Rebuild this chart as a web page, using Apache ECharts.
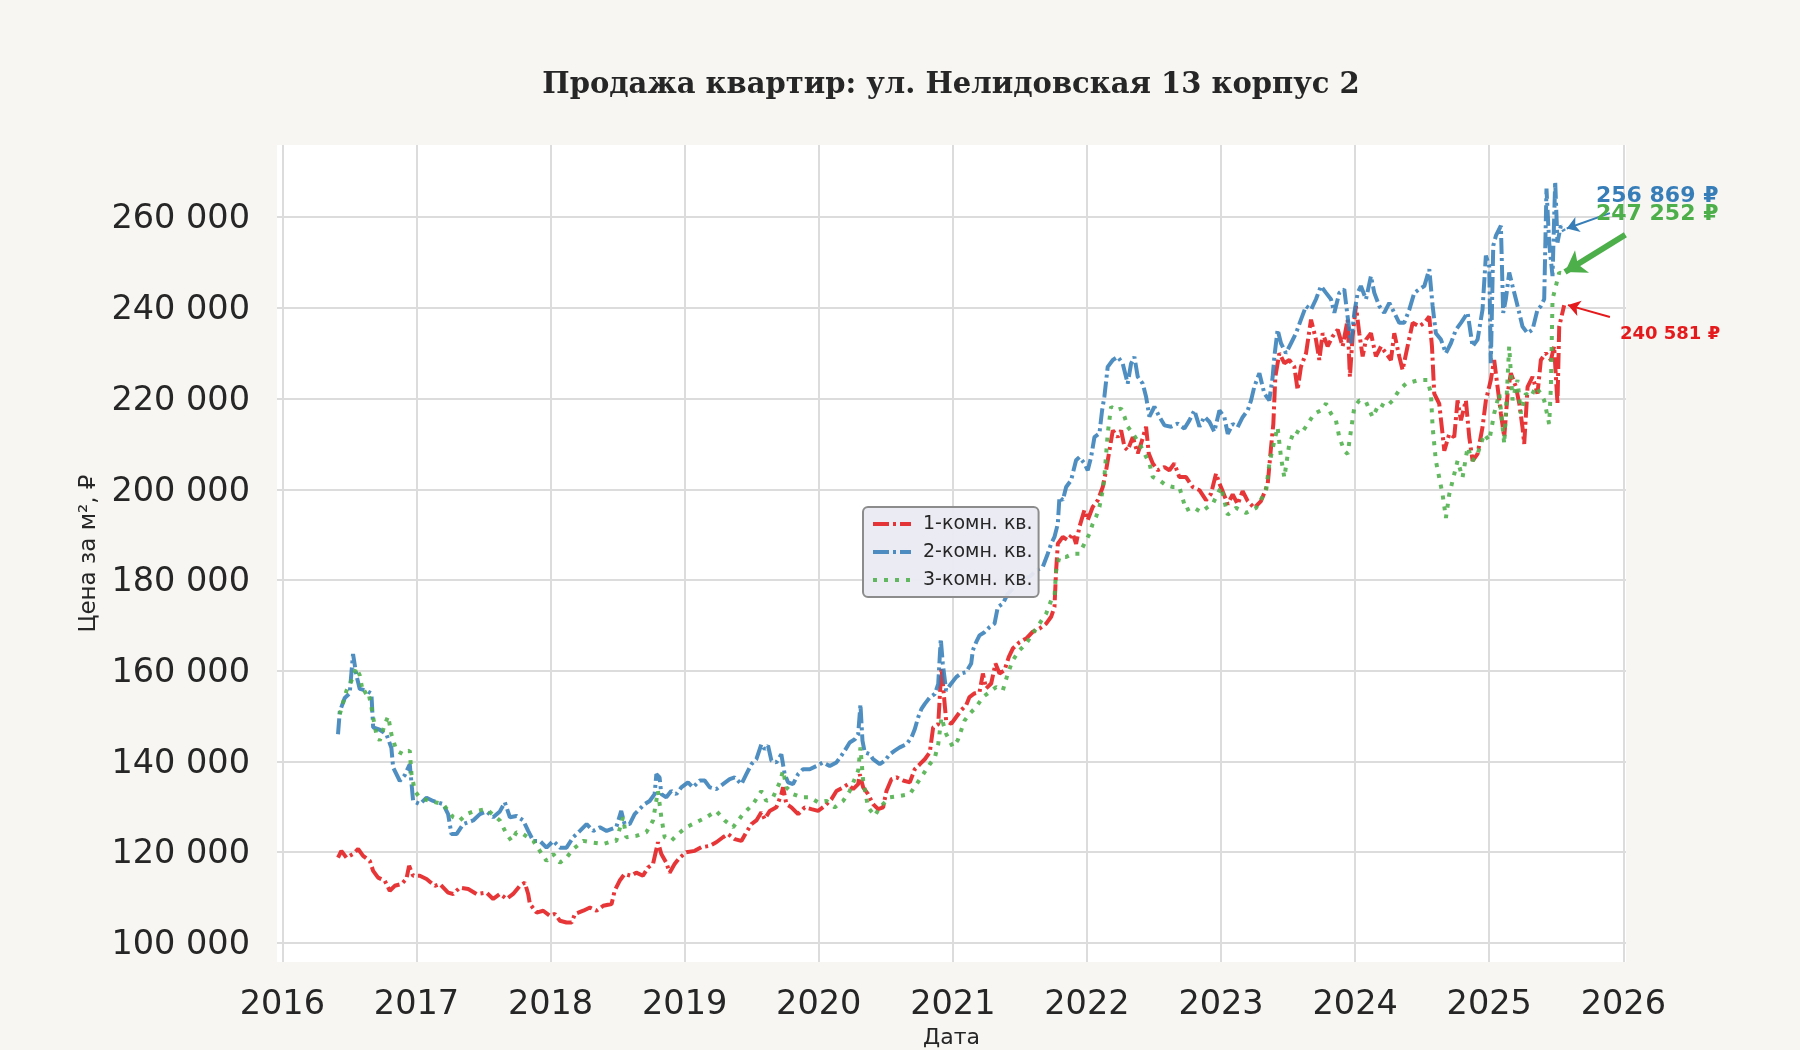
<!DOCTYPE html>
<html>
<head>
<meta charset="utf-8">
<script src="https://cdn.jsdelivr.net/npm/echarts@6/dist/echarts.min.js"></script>
<style>
html,body{margin:0;padding:0;background:#f7f6f2;}
#chart{width:1800px;height:1050px;}
</style>
</head>
<body>
<div id="chart"></div>
<script>
// ---- Data (decimal year, price per m², ₽) ----
const seriesNames = ['1-комн. кв.', '2-комн. кв.', '3-комн. кв.'];

const t1 = [2016.415,2016.440,2016.478,2016.527,2016.565,2016.602,2016.652,2016.677,2016.714,2016.764,2016.801,2016.838,2016.888,2016.925,2016.945,2016.975,2017.025,2017.075,2017.137,2017.174,2017.236,2017.274,2017.323,2017.386,2017.448,2017.522,2017.572,2017.622,2017.672,2017.721,2017.771,2017.808,2017.833,2017.846,2017.896,2017.945,2017.995,2018.032,2018.070,2018.119,2018.157,2018.182,2018.244,2018.294,2018.343,2018.393,2018.455,2018.478,2018.515,2018.552,2018.602,2018.639,2018.689,2018.726,2018.764,2018.801,2018.826,2018.863,2018.888,2018.925,2018.963,2019.012,2019.075,2019.124,2019.187,2019.236,2019.286,2019.323,2019.373,2019.423,2019.460,2019.498,2019.535,2019.572,2019.597,2019.634,2019.684,2019.721,2019.734,2019.759,2019.796,2019.846,2019.896,2019.945,2019.995,2020.045,2020.095,2020.132,2020.182,2020.219,2020.256,2020.294,2020.306,2020.331,2020.368,2020.405,2020.443,2020.480,2020.505,2020.542,2020.580,2020.629,2020.679,2020.716,2020.754,2020.791,2020.828,2020.853,2020.891,2020.915,2020.930,2020.950,2020.988,2021.025,2021.062,2021.099,2021.124,2021.161,2021.199,2021.224,2021.248,2021.286,2021.318,2021.348,2021.385,2021.417,2021.447,2021.497,2021.547,2021.596,2021.646,2021.696,2021.733,2021.758,2021.770,2021.783,2021.820,2021.857,2021.894,2021.919,2021.944,2021.981,2022.006,2022.043,2022.081,2022.118,2022.143,2022.168,2022.193,2022.230,2022.255,2022.280,2022.304,2022.342,2022.379,2022.404,2022.441,2022.461,2022.491,2022.528,2022.578,2022.615,2022.652,2022.689,2022.739,2022.789,2022.839,2022.888,2022.925,2022.963,2022.988,2023.012,2023.050,2023.087,2023.124,2023.161,2023.199,2023.248,2023.298,2023.348,2023.373,2023.390,2023.405,2023.435,2023.472,2023.509,2023.547,2023.571,2023.596,2023.634,2023.671,2023.708,2023.733,2023.758,2023.795,2023.832,2023.870,2023.907,2023.944,2023.961,2023.981,2024.006,2024.031,2024.056,2024.081,2024.118,2024.155,2024.193,2024.230,2024.267,2024.292,2024.329,2024.354,2024.391,2024.429,2024.478,2024.516,2024.553,2024.573,2024.590,2024.627,2024.652,2024.665,2024.702,2024.739,2024.764,2024.789,2024.826,2024.851,2024.876,2024.913,2024.950,2024.975,2025.012,2025.037,2025.062,2025.087,2025.112,2025.137,2025.161,2025.199,2025.224,2025.248,2025.261,2025.286,2025.323,2025.360,2025.385,2025.422,2025.460,2025.484,2025.509,2025.522,2025.559];
const v1 = [118800,120300,118800,119600,120700,119200,118100,115900,114400,113700,111500,112600,113000,114100,117000,114800,114800,114100,112600,113000,111100,110800,112200,111900,110800,111100,109700,110800,109700,110800,112600,113300,110800,108600,106700,107100,106000,106400,104900,104500,104500,106400,107100,107800,107100,108200,108600,111500,113700,115200,114800,115500,114800,116600,117400,122200,119600,117700,115500,117400,118800,120000,120300,121100,121400,122200,123300,124000,122900,122500,124400,126200,127000,128800,127300,129100,129900,132800,134300,130600,129900,128400,129900,129500,129100,130200,131700,133500,134300,135000,133900,135000,137200,134300,132800,130600,129500,129900,133500,136100,136500,135800,135400,138300,139400,140500,142000,147500,148200,160700,155700,149000,148300,149800,151300,152400,154200,155000,155300,159400,156100,157200,161600,159400,160100,163000,164900,166300,167100,168600,169300,170400,171900,174100,182100,188000,189500,188800,190200,188000,191700,195400,193200,196100,197600,200500,204200,208600,213000,211500,213000,209300,208600,211500,207900,210100,213800,207900,205700,204200,204900,204200,205700,202700,202700,200500,199800,197600,199000,203500,201300,199600,196700,198900,196700,199600,197400,195900,197400,201100,209300,214400,224800,230000,227800,228500,227000,221900,227000,230000,237400,233000,228500,234400,231500,233700,235200,231500,237400,224800,233700,240400,234400,229300,233000,234400,229300,231500,230000,228500,234400,229300,226300,231500,236700,235900,236700,238100,231500,221100,218900,212200,208500,212200,211500,219600,215200,219600,211500,206300,207800,213700,219600,224100,228500,222600,216700,211500,221100,225600,222600,218900,213700,210000,222600,224800,221100,228500,230000,228500,231500,218900,235900,240581];

const t2 = [2016.415,2016.428,2016.465,2016.502,2016.527,2016.552,2016.577,2016.627,2016.664,2016.677,2016.726,2016.776,2016.813,2016.826,2016.876,2016.913,2016.950,2016.975,2017.025,2017.075,2017.124,2017.199,2017.236,2017.261,2017.299,2017.348,2017.423,2017.473,2017.522,2017.572,2017.622,2017.659,2017.697,2017.746,2017.796,2017.833,2017.871,2017.920,2017.970,2018.020,2018.070,2018.119,2018.169,2018.219,2018.269,2018.318,2018.368,2018.418,2018.490,2018.527,2018.552,2018.590,2018.627,2018.664,2018.701,2018.739,2018.776,2018.789,2018.813,2018.826,2018.863,2018.900,2018.938,2018.975,2019.025,2019.062,2019.112,2019.149,2019.187,2019.236,2019.286,2019.336,2019.373,2019.423,2019.460,2019.498,2019.535,2019.572,2019.597,2019.622,2019.647,2019.684,2019.721,2019.746,2019.771,2019.808,2019.846,2019.883,2019.933,2019.983,2020.032,2020.082,2020.132,2020.169,2020.194,2020.231,2020.269,2020.294,2020.311,2020.326,2020.343,2020.381,2020.405,2020.455,2020.493,2020.530,2020.567,2020.604,2020.654,2020.692,2020.716,2020.741,2020.766,2020.791,2020.828,2020.866,2020.891,2020.910,2020.925,2020.950,2020.988,2021.025,2021.062,2021.099,2021.137,2021.149,2021.174,2021.199,2021.236,2021.273,2021.311,2021.335,2021.373,2021.410,2021.435,2021.472,2021.522,2021.571,2021.621,2021.671,2021.708,2021.733,2021.758,2021.783,2021.795,2021.820,2021.845,2021.882,2021.919,2021.944,2021.981,2022.006,2022.031,2022.056,2022.093,2022.113,2022.130,2022.155,2022.193,2022.230,2022.267,2022.304,2022.329,2022.354,2022.379,2022.416,2022.441,2022.466,2022.503,2022.540,2022.578,2022.627,2022.677,2022.727,2022.764,2022.801,2022.839,2022.876,2022.913,2022.950,2022.988,2023.025,2023.050,2023.087,2023.124,2023.161,2023.199,2023.224,2023.248,2023.286,2023.323,2023.360,2023.385,2023.398,2023.422,2023.447,2023.484,2023.522,2023.559,2023.596,2023.634,2023.671,2023.708,2023.745,2023.783,2023.820,2023.845,2023.882,2023.919,2023.944,2023.969,2023.994,2024.019,2024.043,2024.081,2024.118,2024.143,2024.180,2024.217,2024.255,2024.292,2024.329,2024.366,2024.404,2024.441,2024.478,2024.516,2024.553,2024.578,2024.602,2024.640,2024.677,2024.714,2024.752,2024.789,2024.839,2024.876,2024.913,2024.950,2024.975,2025.000,2025.012,2025.030,2025.050,2025.087,2025.104,2025.124,2025.149,2025.174,2025.199,2025.224,2025.248,2025.286,2025.323,2025.360,2025.385,2025.410,2025.427,2025.447,2025.472,2025.492,2025.509,2025.534,2025.559];
const v2 = [146000,151000,154000,155000,163700,159000,156000,155600,155000,147500,147000,146000,143000,138700,135700,137000,139400,131300,130600,132000,131300,130600,128400,124000,124000,126200,127000,128400,129000,127700,129000,131000,127700,128000,127000,124700,122500,122500,121000,122500,121000,121000,123300,124700,126200,124700,125500,124700,125500,129100,126200,126200,128400,129500,130600,131300,132800,137200,136500,132800,132100,133500,132800,134300,135400,134300,135800,135800,134300,133900,135000,136100,136500,135000,137200,139400,140500,143800,142700,143500,140200,139800,141600,137200,135400,135000,137200,138300,138300,139000,139800,139000,139800,141300,142400,144200,144900,146000,152600,144600,142000,141600,140500,139400,140200,141600,142400,143100,143800,145300,147100,149700,151600,152700,154100,154900,157100,167000,161600,155600,157200,158600,159400,159700,161600,164500,166300,167800,168500,169600,170400,174000,174800,177000,177700,179200,180300,180700,182100,182900,185800,188000,189500,192400,198300,197600,200500,202000,206400,207100,205700,204200,207100,211500,212300,217400,220400,227000,228500,229200,227700,223300,227700,229200,224800,223300,220400,216000,218200,216000,214100,213800,214500,213400,215200,217400,213800,216000,214900,212700,217400,215900,212200,214400,213700,215900,217400,219600,222600,225600,221100,219600,224800,229300,235200,232200,230000,232200,234400,237400,240400,239600,241900,244800,243300,241900,238900,243300,244100,238100,232200,238900,243300,244800,241900,247000,243300,240400,238900,241100,238900,236700,236700,239600,243300,244100,244800,248500,240400,234400,233000,230000,232200,235200,236700,238900,231500,233000,239600,251500,249300,227800,253700,255900,258100,238900,241900,247800,244800,241900,238900,235900,234400,235200,239600,240400,241900,266300,254400,247000,267800,254400,258100,256869];

const t3 = [2016.428,2016.478,2016.515,2016.552,2016.577,2016.602,2016.639,2016.664,2016.677,2016.701,2016.726,2016.764,2016.789,2016.813,2016.851,2016.900,2016.950,2016.963,2016.988,2017.025,2017.100,2017.199,2017.274,2017.323,2017.373,2017.423,2017.522,2017.622,2017.672,2017.709,2017.746,2017.796,2017.871,2017.920,2017.970,2018.020,2018.070,2018.119,2018.169,2018.244,2018.318,2018.393,2018.468,2018.490,2018.540,2018.565,2018.639,2018.714,2018.764,2018.801,2018.826,2018.851,2018.900,2018.950,2019.012,2019.087,2019.162,2019.236,2019.299,2019.361,2019.435,2019.510,2019.572,2019.609,2019.659,2019.709,2019.734,2019.759,2019.808,2019.871,2019.933,2019.995,2020.057,2020.119,2020.182,2020.231,2020.294,2020.311,2020.331,2020.368,2020.418,2020.455,2020.530,2020.604,2020.679,2020.729,2020.779,2020.828,2020.866,2020.891,2020.915,2020.950,2021.000,2021.037,2021.087,2021.124,2021.174,2021.224,2021.273,2021.323,2021.373,2021.410,2021.447,2021.497,2021.547,2021.596,2021.646,2021.696,2021.733,2021.758,2021.770,2021.795,2021.845,2021.894,2021.944,2021.981,2022.019,2022.043,2022.068,2022.093,2022.118,2022.130,2022.155,2022.180,2022.217,2022.255,2022.280,2022.304,2022.342,2022.391,2022.429,2022.466,2022.491,2022.540,2022.590,2022.640,2022.689,2022.739,2022.789,2022.851,2022.901,2022.938,2023.000,2023.050,2023.112,2023.186,2023.261,2023.335,2023.360,2023.398,2023.422,2023.447,2023.472,2023.509,2023.547,2023.596,2023.646,2023.696,2023.745,2023.783,2023.820,2023.857,2023.882,2023.919,2023.944,2023.969,2023.994,2024.031,2024.081,2024.130,2024.180,2024.230,2024.280,2024.329,2024.379,2024.429,2024.478,2024.540,2024.565,2024.578,2024.602,2024.627,2024.652,2024.677,2024.702,2024.727,2024.764,2024.801,2024.839,2024.876,2024.913,2024.963,2025.000,2025.037,2025.075,2025.112,2025.149,2025.174,2025.211,2025.236,2025.273,2025.311,2025.348,2025.385,2025.410,2025.447,2025.460,2025.472,2025.497,2025.522,2025.559];
const v3 = [150400,155600,157800,160700,159000,155000,155600,152000,149700,146000,144600,148200,150000,146000,142400,141600,142400,137200,133500,132000,131300,130600,127700,127000,128400,129000,129500,127000,124000,122500,124400,124000,122500,120300,118100,119600,117700,118800,120700,122500,122100,121800,122500,122500,127700,123300,123600,124400,127000,133500,127700,123300,122500,124000,125500,126600,127700,129100,127000,125500,128400,130600,133500,131300,132100,135400,138000,134300,132800,132100,132100,131000,131300,129900,131300,133500,138000,143100,135800,129900,128000,129900,132100,132400,132800,135000,137200,139400,140900,143800,149700,146100,143200,144700,149000,150500,152000,154200,155300,156400,155700,159400,162300,164500,166000,168200,170400,172600,175500,176300,182100,185100,185100,185800,185800,188000,190200,192400,193900,196100,199800,202700,212300,218200,217400,217800,216000,213800,212300,210100,207900,205700,202700,202000,200900,200500,200500,195400,196100,195000,196100,196800,200500,194400,195900,194800,195900,199600,205600,210700,213700,207100,202600,210000,213000,212200,214400,216700,217400,218900,216700,215200,211500,208500,207800,213000,218100,219600,219300,215900,218900,218100,219600,221900,223300,223700,224100,224100,221100,213700,206300,202600,198900,193700,198900,201900,206300,202600,209300,206300,207800,212200,210700,216700,221100,210000,231500,219600,224100,216700,221100,220400,222600,221100,219600,214400,222600,241900,244800,247800,247252];

// ---- Axis ticks ----
const xTicks = [2016,2017,2018,2019,2020,2021,2022,2023,2024,2025,2026];
const yTicks = [100000,120000,140000,160000,180000,200000,220000,240000,260000];

// ---- Annotations: text anchor, arrow start, arrow tip (data coordinates) ----
const annBlue  = {text:'256 869 ₽', at:[2025.796, 264530], from:[2025.900, 260890], to:[2025.578, 257500]};
const annGreen = {text:'247 252 ₽', at:[2025.796, 260560], from:[2026.015, 256100], to:[2025.565, 247900]};
const annRed   = {text:'240 581 ₽', at:[2025.975, 234110], from:[2025.900, 237970], to:[2025.587, 240610]};

const colors = ['#e41a1c', '#377eb8', '#4daf4a'];
const zip = (t, v) => t.map((x, i) => [x, v[i]]);
const fmtNum = v => String(v).replace(/\B(?=(\d{3})+(?!\d))/g, ' ');

function annotation(a, color, fontSize, lineWidth, headSize) {
  return {
    markPoint: {
      silent: true,
      symbol: 'circle', symbolSize: 0,
      data: [{coord: a.at, value: a.text}],
      label: {show: true, position: 'right', distance: 0, formatter: a.text,
        color: color, fontFamily: 'DejaVu Sans', fontWeight: 'bold', fontSize: fontSize}
    },
    markLine: {
      silent: true,
      symbol: ['none', 'arrow'],
      symbolSize: headSize,
      label: {show: false},
      lineStyle: {color: color, width: lineWidth, type: 'solid', opacity: 1},
      emphasis: {disabled: true},
      data: [[{coord: a.from}, {coord: a.to}]]
    }
  };
}

const chart = echarts.init(document.getElementById('chart'));
const baseLine = (name, data, color, type, ann, annFont, annW, annHead) => Object.assign({
  name: name, type: 'line', data: data,
  symbol: 'none', showSymbol: false, clip: false,
  color: color,
  lineStyle: {color: color, width: 4, type: type, opacity: 0.88, cap: 'butt'},
  emphasis: {disabled: true}
}, annotation(ann, color, annFont, annW, annHead));

chart.setOption({
  animation: false,
  backgroundColor: '#f7f6f2',
  textStyle: {fontFamily: 'DejaVu Sans'},
  graphic: [{
    type: 'text', x: 951, y: 85,
    style: {text: 'Продажа квартир: ул. Нелидовская 13 корпус 2',
      align: 'center', verticalAlign: 'middle',
      font: 'bold 29px "DejaVu Serif"', fill: '#262626'}
  }],
  grid: {left: 277, right: 174, top: 145, bottom: 88, show: true,
    backgroundColor: '#ffffff', borderWidth: 0, containLabel: false, outerBoundsMode: 'none'},
  legend: {
    orient: 'vertical', left: 863, top: 507,
    data: seriesNames,
    backgroundColor: 'rgba(234,234,242,0.95)', borderColor: '#8c8c8c', borderWidth: 2, borderRadius: 5,
    padding: [7, 6, 7, 8], itemGap: 8, itemWidth: 38, itemHeight: 14,
    itemStyle: {opacity: 0, borderWidth: 0},
    lineStyle: {width: 4},
    textStyle: {fontSize: 19, color: '#262626', fontFamily: 'DejaVu Sans', lineHeight: 20, padding: [0, 0, 0, 7]}
  },
  xAxis: {
    type: 'value', min: 2015.96, max: 2026.02,
    name: 'Дата', nameLocation: 'middle', nameGap: 64,
    nameTextStyle: {fontSize: 22, color: '#262626', fontFamily: 'DejaVu Sans'},
    axisLine: {show: false}, axisTick: {show: false, customValues: xTicks},
    axisLabel: {customValues: xTicks, formatter: v => String(Math.round(v)), fontSize: 33.5, color: '#262626', margin: 26},
    splitLine: {show: true, lineStyle: {color: '#dcdcdc', width: 2}}
  },
  yAxis: {
    type: 'value', min: 95800, max: 275900,
    name: 'Цена за м², ₽', nameLocation: 'middle', nameGap: 176, nameRotate: 90,
    nameTextStyle: {fontSize: 23, color: '#262626', fontFamily: 'DejaVu Sans'},
    axisLine: {show: false}, axisTick: {show: false, customValues: yTicks},
    axisLabel: {customValues: yTicks, formatter: v => '{a|' + fmtNum(v) + '}', color: '#262626', margin: 27,
      rich: {a: {fontSize: 33.5, color: '#262626', fontFamily: 'DejaVu Sans', padding: [5, 0, 0, 0]}}},
    splitLine: {show: true, lineStyle: {color: '#dcdcdc', width: 2}}
  },
  series: [
    baseLine(seriesNames[0], zip(t1, v1), colors[0], [16, 4, 3, 4], annRed, 18, 2, 12),
    baseLine(seriesNames[1], zip(t2, v2), colors[1], [16, 4, 3, 4], annBlue, 22, 2, 12),
    baseLine(seriesNames[2], zip(t3, v3), colors[2], [4, 7], annGreen, 22, 6, 20)
  ]
});
</script>
</body>
</html>
